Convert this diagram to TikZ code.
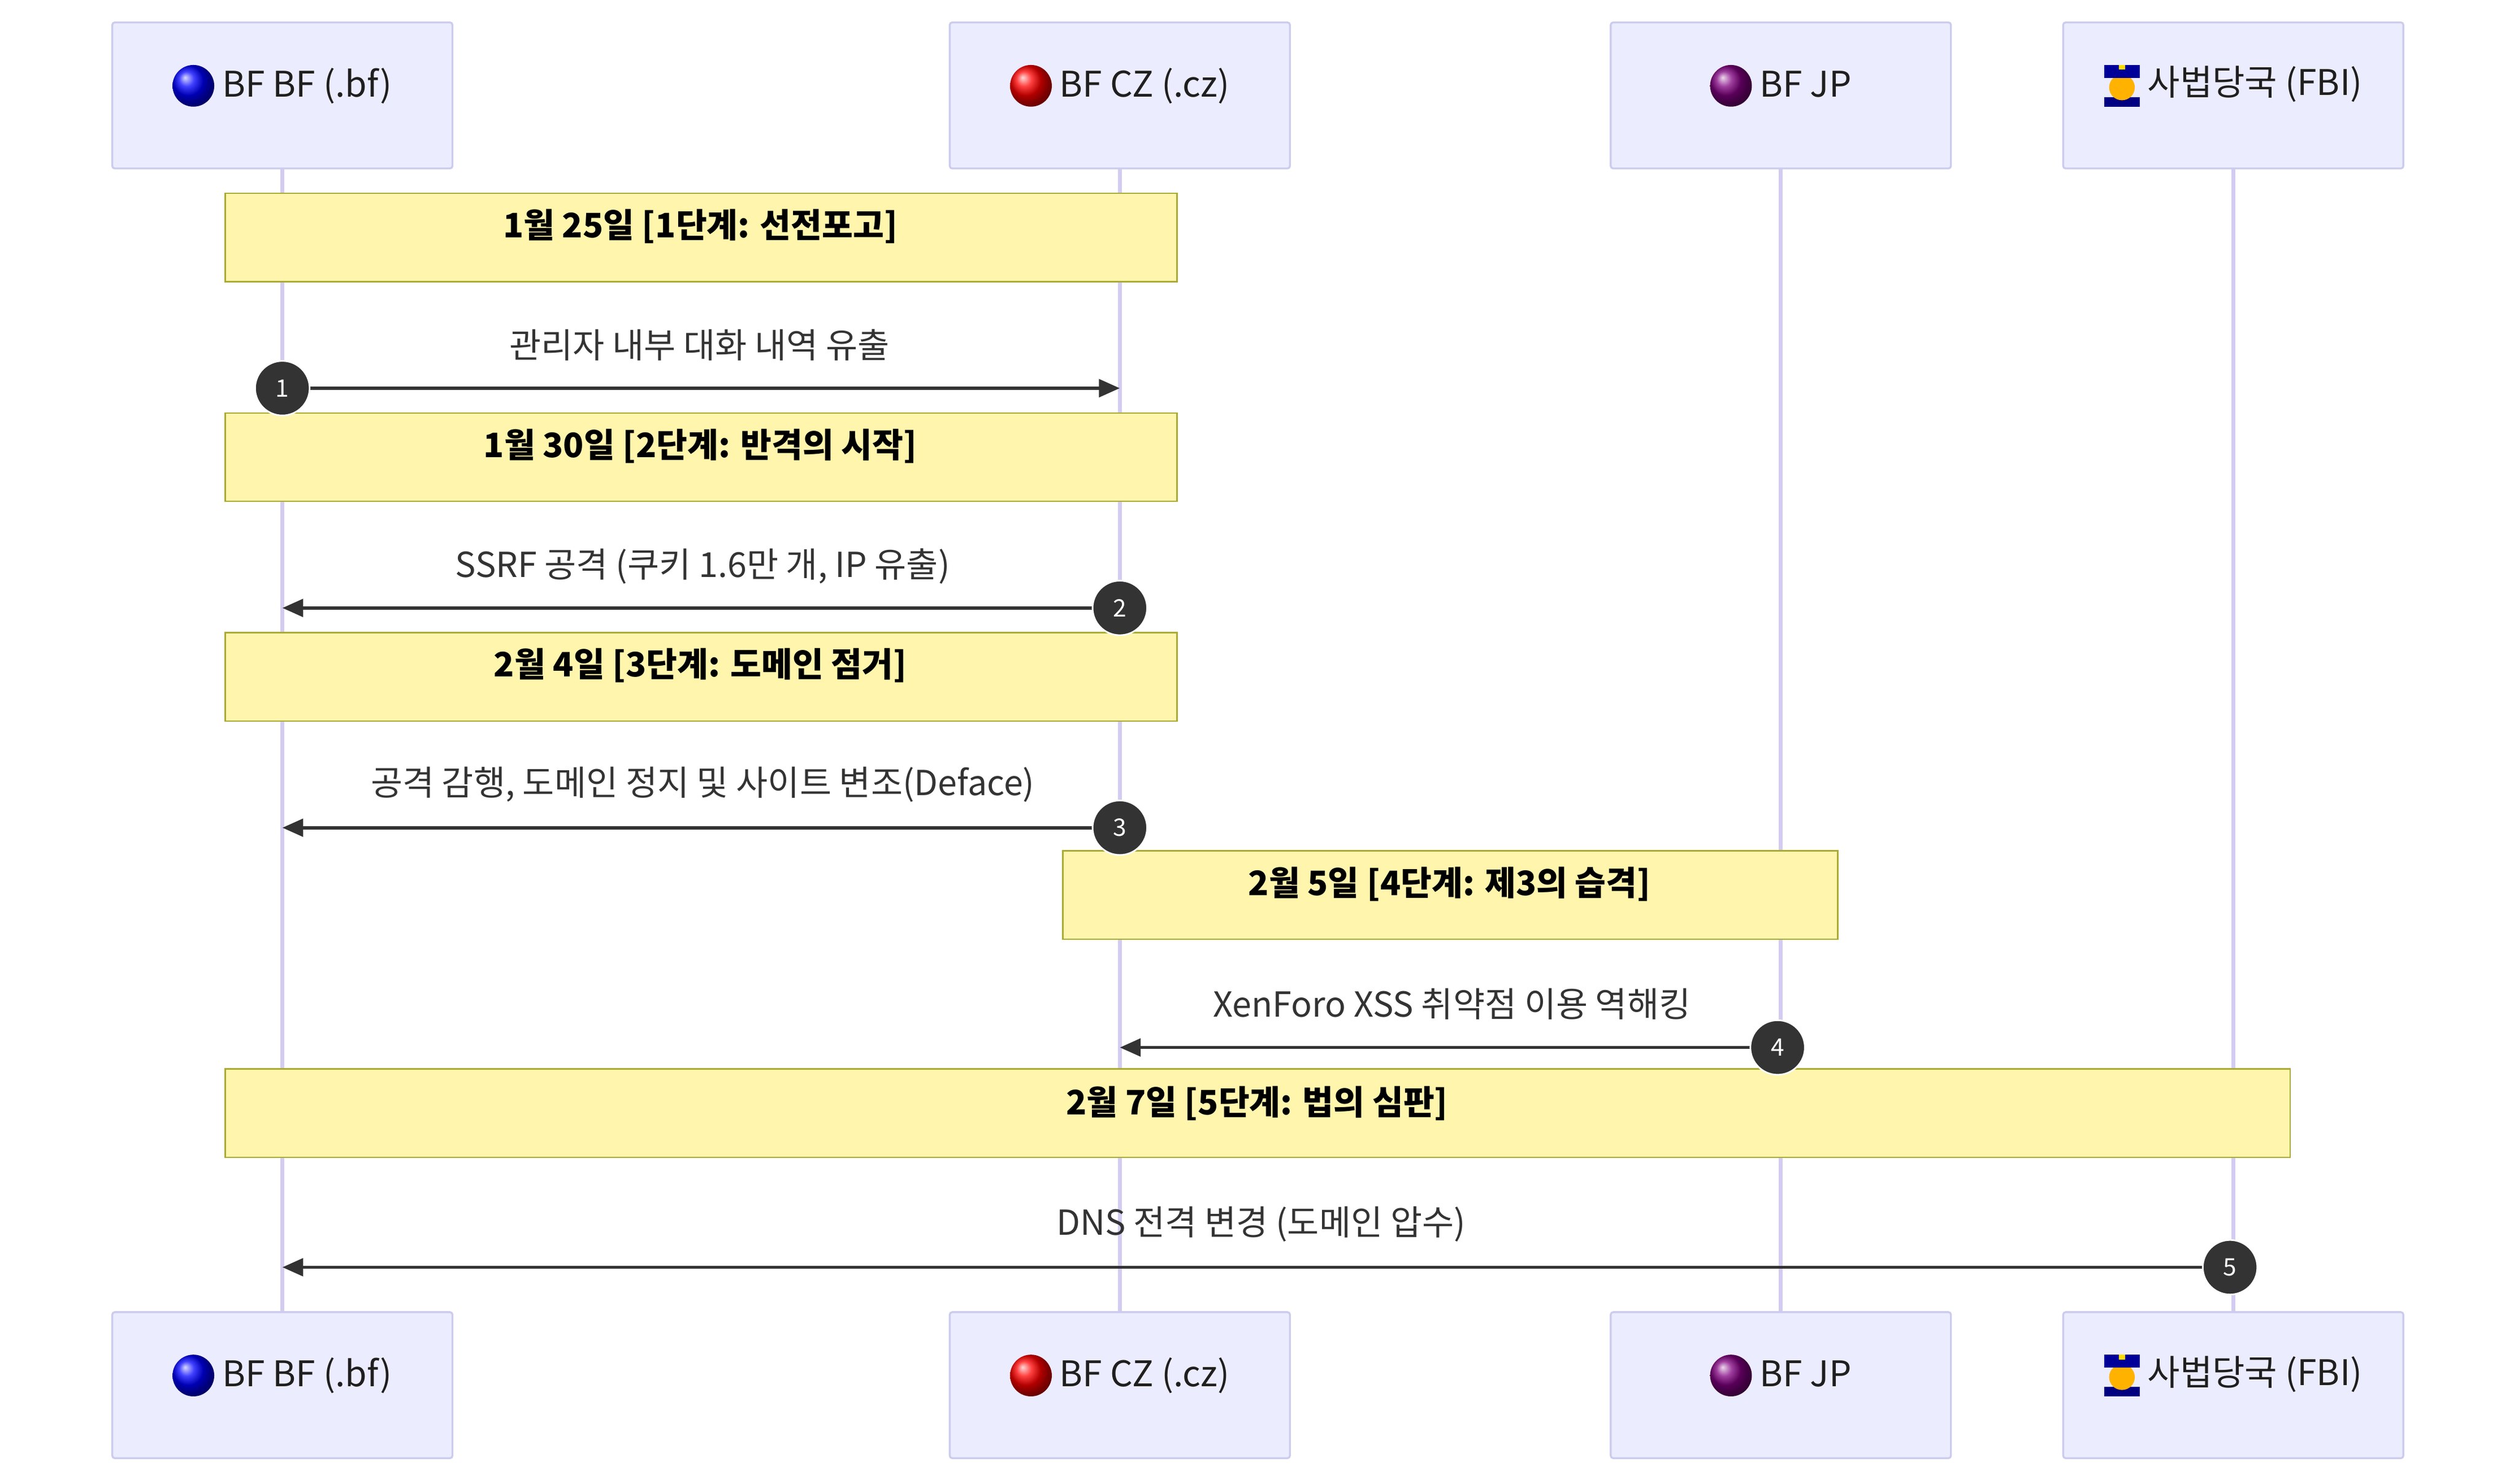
\documentclass[tikz,border=0pt]{standalone}
\usepackage{fontspec}
\setmainfont{Noto Sans CJK KR}
\usetikzlibrary{arrows.meta,calc}
\definecolor{actf}{HTML}{ECECFF}
\definecolor{actd}{HTML}{CCCCEE}
\definecolor{life}{HTML}{D4CCF0}
\definecolor{notef}{HTML}{FFF5AD}
\definecolor{noted}{HTML}{AAAA33}
\definecolor{ink}{HTML}{333333}
\begin{document}
\begin{tikzpicture}[x=1pt,y=-1pt,
 actor/.style={draw=actd,fill=actf,line width=1.2pt,minimum width=212pt,minimum height=91pt,rounded corners=1.5pt},
 atext/.style={font=\fontsize{22}{26}\selectfont,text=ink!60!black},
 note/.style={draw=noted,fill=notef,line width=1pt,minimum height=55pt,anchor=north west},
 ntext/.style={font=\fontsize{21}{25}\selectfont\bfseries},
 msg/.style={draw=ink,line width=2pt,-{Triangle[length=13pt,width=11pt]}},
 lbl/.style={font=\fontsize{21.5}{25}\selectfont,text=ink},
 num/.style={circle,fill=ink,draw=white,line width=1pt,minimum size=34pt,inner sep=0pt,text=white,font=\fontsize{15}{18}\selectfont},
 life/.style={draw=life,line width=2.5pt}]
\useasboundingbox (0,0) rectangle (1567,925);
\foreach \x in {176,698,1110,1392}{\draw[life] (\x,105) -- (\x,818);}
\newcommand\dotc[1]{\tikz[baseline=-7pt]\shade[ball color=#1] (0,0) circle (13pt);}
\newcommand\cop{\tikz[baseline=-7pt,x=1pt,y=1pt]{\fill[blue!50!black] (-11,-14) rectangle (11,-8); \fill[orange!60!yellow] (0,-2) circle (8); \fill[blue!60!black] (-11,4) rectangle (11,12);\fill[yellow!80!orange] (-2,9) rectangle (2,12);}}
\foreach \y/\s in {59.5/t,863.5/b}{
 \node[actor] (a\s) at (176,\y) {}; \node[atext] at ($(a\s)+(0,-6)$) {\dotc{blue}\ BF BF (.bf)};
 \node[actor] (b\s) at (698,\y) {}; \node[atext] at ($(b\s)+(0,-6)$) {\dotc{red}\ BF CZ (.cz)};
 \node[actor] (c\s) at (1110,\y) {}; \node[atext] at ($(c\s)+(0,-6)$) {\dotc{violet}\ BF JP};
 \node[actor] (d\s) at (1392,\y) {}; \node[atext] at ($(d\s)+(0,-6)$) {\cop\ 사법당국 (FBI)};
}
\node[note,minimum width=593pt] (n1) at (140,120) {}; \node[ntext] at (436.5,141) {1월 25일 [1단계: 선전포고]};
\node[note,minimum width=593pt] (n2) at (140,257) {}; \node[ntext] at (436.5,278) {1월 30일 [2단계: 반격의 시작]};
\node[note,minimum width=593pt] (n3) at (140,394) {}; \node[ntext] at (436.5,415) {2월 4일 [3단계: 도메인 점거]};
\node[note,minimum width=483pt] (n4) at (662,530) {}; \node[ntext] at (903.5,551) {2월 5일 [4단계: 제3의 습격]};
\node[note,minimum width=1287pt] (n5) at (140,666) {}; \node[ntext] at (783.5,688) {2월 7일 [5단계: 법의 심판]};
\coordinate (m1s) at (176,242); \coordinate (m1e) at (698,242);
\coordinate (m2s) at (698,379); \coordinate (m2e) at (176,379);
\coordinate (m3s) at (698,516); \coordinate (m3e) at (176,516);
\coordinate (m4s) at (1108,653); \coordinate (m4e) at (698,653);
\coordinate (m5s) at (1390,790); \coordinate (m5e) at (176,790);
\draw[msg] (m1s) -- (m1e); \node[lbl] at (436,215) {관리자 내부 대화 내역 유출};
\draw[msg] (m2s) -- (m2e); \node[lbl] at (438,353) {SSRF 공격 (쿠키 1.6만 개, IP 유출)};
\draw[msg] (m3s) -- (m3e); \node[lbl] at (438,489) {공격 감행, 도메인 정지 및 사이트 변조(Deface)};
\draw[msg] (m4s) -- (m4e); \node[lbl] at (905,626) {XenForo XSS 취약점 이용 역해킹};
\draw[msg] (m5s) -- (m5e); \node[lbl] at (786,763) {DNS 전격 변경 (도메인 압수)};
\node[num] at (m1s) {1};
\node[num] at (m2s) {2};
\node[num] at (m3s) {3};
\node[num] at (m4s) {4};
\node[num] at (m5s) {5};
\end{tikzpicture}
\end{document}
